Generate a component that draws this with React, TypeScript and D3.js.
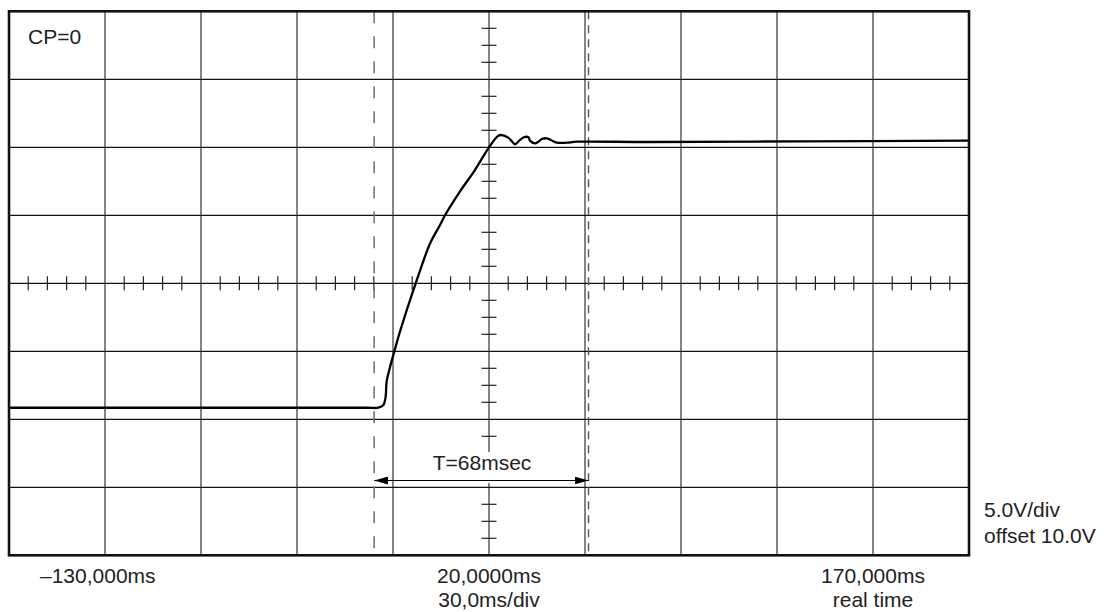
import { useEffect, useRef } from "react";
import * as d3 from "d3";

// scope settings: 30 ms/div, 5 V/div, offset 10 V
const timeDomain = [-130, 170];
const voltDomain = [-10, 30];
const timeGrid = d3.range(-100, 170, 30);
const voltGrid = d3.range(-5, 30, 5);

// trace (ms, V)
const traceT = [
  -130, -70, -18, -14.6, -13.0, -12.3, -12.0, -10.9, -9.6, -8.3, -5.5, -2.9, 1.6, 4.7, 6.3, 10.9, 15.6, 20.0,
  22.9, 24.0, 26.0, 27.1, 28.1, 29.7, 30.9, 32.3, 32.8, 34.4, 35.4, 36.5, 38.0, 39.3, 41.2, 44.3,
  47.4, 70.3, 117.2, 169.7,
];
const traceV = [
  0.85, 0.85, 0.85, 0.85, 1.05, 1.66, 2.76, 3.87, 4.97, 6.07, 8.18, 10.0, 12.94, 14.29, 15.02, 16.74, 18.33, 20.0,
  20.85, 20.9, 20.71, 20.46, 20.22, 20.54, 20.74, 20.74, 20.49, 20.29, 20.41, 20.61, 20.66, 20.54, 20.34, 20.34,
  20.41, 20.39, 20.44, 20.49,
];

// measurement cursors (ms)
const cursors = [-15.9, 51.1];
const cursorLabel = "T=68msec";

const bottomLabels = [
  { text: ["–130,000ms"], x: 40, anchor: "start" },
  { text: ["20,0000ms", "30,0ms/div"], x: 489, anchor: "middle" },
  { text: ["170,000ms", "real time"], x: 873, anchor: "middle" },
];
const sideLabels = ["5.0V/div", "offset 10.0V"];

const FONT = "'Liberation Sans', Arial, Helvetica, sans-serif";
const INK = "#222";

export default function App() {
  const svgRef = useRef<SVGSVGElement>(null);

  useEffect(() => {
    if (!svgRef.current) return;
    const svg = d3.select(svgRef.current);
    svg.selectAll("*").remove();

    const x = d3.scaleLinear().domain(timeDomain).range([9, 969]);
    const y = d3.scaleLinear().domain(voltDomain).range([555.3, 11.3]);
    const [x0, x1] = x.range();
    const [y0, y1] = y.range();

    const defs = svg.append("defs");
    defs
      .append("marker")
      .attr("id", "arrow")
      .attr("viewBox", "0 0 14 8")
      .attr("refX", 14)
      .attr("refY", 4)
      .attr("markerWidth", 14)
      .attr("markerHeight", 8)
      .attr("markerUnits", "userSpaceOnUse")
      .attr("orient", "auto-start-reverse")
      .append("path")
      .attr("d", "M0,0L14,4L0,8Z")
      .attr("fill", "#000");

    // grid
    const grid = svg.append("g");
    grid
      .selectAll(".vg")
      .data(timeGrid)
      .enter()
      .append("line")
      .attr("x1", (d) => x(d))
      .attr("x2", (d) => x(d))
      .attr("y1", y1)
      .attr("y2", y0)
      .attr("stroke", "#333")
      .attr("stroke-width", 1.2);
    grid
      .selectAll(".hg")
      .data(voltGrid)
      .enter()
      .append("line")
      .attr("x1", x0)
      .attr("x2", x1)
      .attr("y1", (d) => y(d))
      .attr("y2", (d) => y(d))
      .attr("stroke", "#111")
      .attr("stroke-width", 1.2);

    // minor ticks on the centre axes
    const hTicks = d3.range(-130, 170.01, 6).filter((t) => (t + 130) % 30 !== 0);
    grid
      .selectAll(".ht")
      .data(hTicks)
      .enter()
      .append("line")
      .attr("x1", (d) => x(d))
      .attr("x2", (d) => x(d))
      .attr("y1", y(10) - 7)
      .attr("y2", y(10) + 7)
      .attr("stroke", "#222")
      .attr("stroke-width", 1.2);
    const vTicks = d3.range(-10, 30.01, 1.25).filter((v) => Math.abs(v % 5) > 0.01);
    grid
      .selectAll(".vt")
      .data(vTicks)
      .enter()
      .append("line")
      .attr("x1", x(20) - 7.5)
      .attr("x2", x(20) + 7.5)
      .attr("y1", (d) => y(d))
      .attr("y2", (d) => y(d))
      .attr("stroke", "#222")
      .attr("stroke-width", 1.2);

    // cursors
    svg
      .append("line")
      .attr("x1", x(cursors[0]))
      .attr("x2", x(cursors[0]))
      .attr("y1", y1)
      .attr("y2", y0)
      .attr("stroke", "#777")
      .attr("stroke-width", 1.6)
      .attr("stroke-dasharray", "12,13");
    svg
      .append("line")
      .attr("x1", x(cursors[1]))
      .attr("x2", x(cursors[1]))
      .attr("y1", y1)
      .attr("y2", y0)
      .attr("stroke", "#555")
      .attr("stroke-width", 1.4)
      .attr("stroke-dasharray", "8,6");

    // measurement label with white backing
    svg
      .append("rect")
      .attr("x", 426)
      .attr("y", y(-2.4))
      .attr("width", 114)
      .attr("height", 31)
      .attr("fill", "#fff");
    svg
      .append("text")
      .attr("x", 482)
      .attr("y", 470)
      .attr("text-anchor", "middle")
      .style("font-family", FONT)
      .style("font-size", "21px")
      .attr("fill", INK)
      .text(cursorLabel);
    svg
      .append("line")
      .attr("x1", x(cursors[0]))
      .attr("x2", x(cursors[1]))
      .attr("y1", y(-4.5))
      .attr("y2", y(-4.5))
      .attr("stroke", "#000")
      .attr("stroke-width", 1)
      .attr("marker-start", "url(#arrow)")
      .attr("marker-end", "url(#arrow)");

    // trace
    const pts = traceT.map((t, i) => [t, traceV[i]] as [number, number]);
    const line = d3
      .line<[number, number]>()
      .x((d) => x(d[0]))
      .y((d) => y(d[1]))
      .curve(d3.curveCatmullRom.alpha(0.5));
    svg
      .append("path")
      .attr("d", line(pts))
      .attr("fill", "none")
      .attr("stroke", "#000")
      .attr("stroke-width", 2.3)
      .attr("stroke-linejoin", "round");

    // frame
    svg
      .append("rect")
      .attr("x", x0)
      .attr("y", y1)
      .attr("width", x1 - x0)
      .attr("height", y0 - y1)
      .attr("fill", "none")
      .attr("stroke", "#111")
      .attr("stroke-width", 2.6);

    // labels
    svg
      .append("text")
      .attr("x", 28)
      .attr("y", 44)
      .style("font-family", FONT)
      .style("font-size", "21px")
      .attr("fill", INK)
      .text("CP=0");

    bottomLabels.forEach((lab) => {
      lab.text.forEach((s, i) => {
        svg
          .append("text")
          .attr("x", lab.x)
          .attr("y", 583 + i * 24)
          .attr("text-anchor", lab.anchor)
          .style("font-family", FONT)
          .style("font-size", "21px")
          .attr("fill", INK)
          .text(s);
      });
    });

    sideLabels.forEach((s, i) => {
      svg
        .append("text")
        .attr("x", 984)
        .attr("y", 517 + i * 26)
        .style("font-family", FONT)
        .style("font-size", "21px")
        .attr("fill", INK)
        .text(s);
    });
  }, []);

  return (
    <svg
      ref={svgRef}
      width={1107}
      height={612}
      style={{ position: "fixed", left: 0, top: 0, background: "#fff" }}
    />
  );
}
